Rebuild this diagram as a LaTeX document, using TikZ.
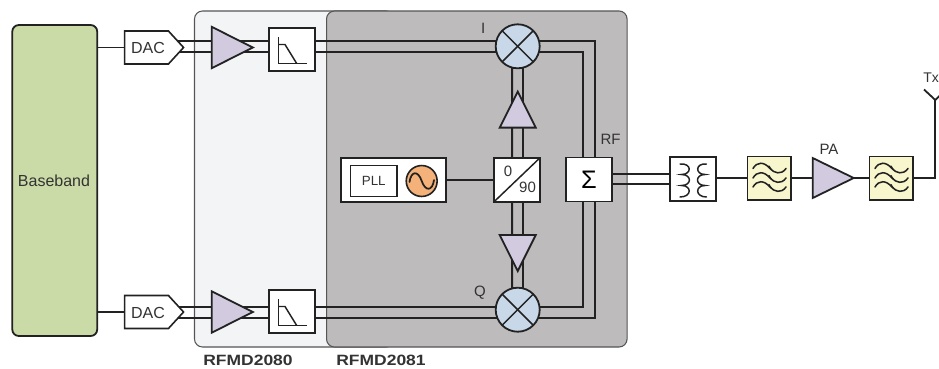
\documentclass[tikz,border=0pt]{standalone}
\usepackage{fontspec}
\setmainfont{Liberation Sans}
\newfontfamily\lblfont[FakeStretch=1.17]{Liberation Sans}
\usetikzlibrary{shapes.geometric,shapes.symbols,calc,backgrounds}
\pgfdeclarelayer{panels}
\pgfsetlayers{panels,background,main}
\definecolor{ink}{HTML}{222222}
\definecolor{bbgreen}{HTML}{CBDBA7}
\definecolor{amppurple}{HTML}{D2CBE0}
\definecolor{mixblue}{HTML}{C8D8E8}
\definecolor{oscorange}{HTML}{F4B27A}
\definecolor{filtyellow}{HTML}{F8F6CC}
\definecolor{lightpanel}{HTML}{F2F4F6}
\definecolor{darkpanel}{HTML}{BDBBBB}
\definecolor{panelline}{HTML}{555555}
\definecolor{txt}{HTML}{333333}
\tikzset{
  x=0.75pt,y=-0.75pt,
  wire/.style={draw=ink,line width=1.35pt},
  thinwire/.style={draw=ink,line width=1.1pt},
  box/.style={draw=ink,line width=1.35pt,fill=white,rectangle,inner sep=0pt,outer sep=0pt},
  filt/.style={box,fill=filtyellow,minimum width=32.4pt,minimum height=32.4pt},
  amp/.style={isosceles triangle,isosceles triangle stretches,draw=ink,line width=1.35pt,fill=amppurple,inner sep=0pt,outer sep=0pt},
  mix/.style={circle,draw=ink,line width=1.35pt,fill=mixblue,inner sep=0pt,outer sep=0pt,minimum size=33pt},
  dacshape/.style={signal,signal to=east,signal pointer angle=95,draw=ink,line width=1.2pt,fill=white,inner sep=0pt,outer sep=0pt,minimum width=44.25pt,minimum height=24.75pt},
  panel/.style={rectangle,rounded corners=6pt,draw=panelline,line width=0.8pt,inner sep=0pt},
  lab/.style={font=\fontsize{11.25pt}{13pt}\selectfont,text=txt,inner sep=0pt},
  biglab/.style={font=\fontsize{12pt}{14pt}\selectfont,text=txt,inner sep=0pt},
  blab/.style={font=\lblfont\bfseries\fontsize{11.2pt}{13pt}\selectfont,text=txt,inner sep=0pt},
  sym/.style={draw=ink,line width=1.1pt,line cap=round},
  filtersym/.pic={
    \foreach \d in {-9.5,0,9}{
      \draw[sym,line width=1.15pt] (-16,\d) .. controls (-12,{\d-7}) and (-5,{\d-7}) .. (1,\d)
         .. controls (5,{\d+4.5}) and (12,{\d+7}) .. (17,\d);
      \draw[sym,line width=0.9pt] (0,{\d-2.5}) -- (2.5,{\d+1.5});
    }
  },
  mixx/.pic={
    \draw[sym,line cap=butt] (-15.6,-15.6) -- (15.6,15.6);
    \draw[sym,line cap=butt] (-15.6,15.6) -- (15.6,-15.6);
  },
  lowpass/.pic={
    \draw[sym,line cap=butt] (-13.5,-12.5) -- (-13.5,14) -- (15,14);
    \draw[sym,line cap=butt] (-13.5,-5) -- (-7,-5) -- (4.7,14);
  }
}
\begin{document}
\begin{tikzpicture}
\useasboundingbox (0,0) rectangle (939,368);
\clip (0,0) rectangle (939,368);

% blocks
\node[box,fill=bbgreen,rounded corners=5pt,minimum width=63.75pt,minimum height=233.25pt] (base) at (54.75,180.5) {};
\node[biglab] (basetxt) at (54,181) {Baseband};

\node[dacshape] (dacA) at (146.5,47.5) {};
\node[biglab] (dacAt) at (148,48) {DAC};
\node[dacshape] (dacB) at (146.5,312) {};
\node[biglab] (dacBt) at (148,312.5) {DAC};

\node[amp,minimum width=31pt,minimum height=30.75pt] (ampA) at (224.5,47.5) {};
\node[amp,minimum width=31pt,minimum height=30.75pt] (ampB) at (224.5,312) {};

\node[box,minimum width=34.5pt,minimum height=32.5pt] (lpA) at (292,49.5) {};
\pic at (292,49.5) {lowpass};
\node[box,minimum width=34.5pt,minimum height=32.5pt] (lpB) at (292,311.5) {};
\pic at (292,311.5) {lowpass};

\node[mix] (mixI) at (517.7,46.3) {};
\pic at (517.7,46.3) {mixx};
\node[mix] (mixQ) at (517.7,309.7) {};
\pic at (517.7,309.7) {mixx};

\node[amp,shape border rotate=90,minimum width=27pt,minimum height=27pt] (ampU) at (517.7,116.5) {};
\node[amp,shape border rotate=270,minimum width=27pt,minimum height=27pt] (ampD) at (517.7,246.2) {};

\node[box,minimum width=34.5pt,minimum height=33pt] (split) at (516.8,180) {};
\draw[thinwire] (split.south west) -- (split.north east);
\node[lab] (zero) at (508,171) {0};
\node[lab] (ninety) at (527.5,187.5) {90};

\node[box,minimum width=34.5pt,minimum height=33pt] (sigma) at (589,179.5) {};
\node[font=\fontsize{19pt}{21pt}\selectfont,text=black,inner sep=0pt] (sigmat) at (589,179.5) {Σ};

\node[box,minimum width=79pt,minimum height=33pt] (pll) at (393.5,180.3) {};
\node[box,line width=1.2pt,minimum width=35pt,minimum height=23pt] (pllin) at (373.8,181) {};
\node[font=\fontsize{10pt}{12pt}\selectfont,text=txt,inner sep=0pt] (plltxt) at (373.8,181) {PLL};
\node[circle,draw=ink,line width=1.2pt,fill=oscorange,minimum size=23.2pt,inner sep=0pt,outer sep=0pt] (osc) at (421.7,181) {};
\draw[sym,line width=1.3pt] (409.5,182) .. controls (411,171) and (418,170) .. (421.7,181)
   .. controls (425.5,192) and (432.5,191) .. (434,180);

\node[box,minimum width=35pt,minimum height=33pt] (xfmr) at (693,179) {};
\draw[sym] (680,164) .. controls (692,163) and (692,174.5) .. (681.5,174.5)
   .. controls (692,174.5) and (692,185.5) .. (681.5,185.5)
   .. controls (692,185.5) and (692,197) .. (680,197);
\draw[sym] (706.5,164) .. controls (695,163) and (695,174.5) .. (705,174.5)
   .. controls (695,174.5) and (695,185.5) .. (705,185.5)
   .. controls (695,185.5) and (695,197) .. (706.5,197);

\node[filt] (flA) at (769,178) {};
\pic at (769,178) {filtersym};
\node[amp,minimum width=30pt,minimum height=30.75pt] (pa) at (825.2,178) {};
\node[filt] (flB) at (891,178) {};
\pic at (891,178) {filtersym};

\coordinate (antbase) at (935.3,100);
\coordinate (antturn) at (935.3,178);
\coordinate (antL) at (924,89.5);
\coordinate (antR) at (946,89.5);

% labels
\node[lab] (labI) at (483.3,28.5) {I};
\node[lab] (labQ) at (480,293) {Q};
\node[lab] (labRF) at (610.5,139.5) {RF};
\node[lab] (labPA) at (829,149) {PA};
\node[lab,font=\fontsize{10.5pt}{12pt}\selectfont,anchor=west] (labTx) at (923,77.5) {Tx};
\node[blab] (labA) at (248,360) {RFMD2080};
\node[blab] (labB) at (381,360) {RFMD2081};

\begin{pgfonlayer}{panels}
  \node[panel,fill=lightpanel,minimum width=150pt,minimum height=252pt] (pnlA) at (294.5,179) {};
  \node[panel,fill=darkpanel,minimum width=225.4pt,minimum height=252pt] (pnlB) at (476.8,179) {};
\end{pgfonlayer}

\begin{pgfonlayer}{background}
  % single lines
  \draw[wire] (base.east |- dacA) -- (dacA.west);
  \draw[wire] (base.east |- dacB) -- (dacB.west);
  \draw[wire] (pll.east |- split) -- (split.west);
  \draw[wire] (xfmr.east |- flA) -- (flA.west);
  \draw[wire] (flA.east) -- (pa.west);
  \draw[wire] (pa.east) -- (flB.west);
  \draw[wire] (flB.east) -- (antturn) -- (antbase);
  \draw[wire] (antL) -- (antbase) -- (antR);
  % I/Q pairs
  \draw[wire] ($(dacA.center)+(30,-6.5)$) -- ($(mixI.center)+(0,-5.3)$);
  \draw[wire] ($(dacA.center)+(30,4.5)$) -- ($(mixI.center)+(0,5.7)$);
  \draw[wire] ($(dacB.center)+(30,-5)$) -- ($(mixQ.center)+(0,-2.7)$);
  \draw[wire] ($(dacB.center)+(30,5.7)$) -- ($(mixQ.center)+(0,8)$);
  % mixer to sigma
  \draw[wire] ($(mixI.center)+(0,-5.3)$) -| ($(sigma.north)+(5.7,0)$);
  \draw[wire] ($(mixI.center)+(0,5.7)$) -| ($(sigma.north)+(-6.3,0)$);
  \draw[wire] ($(mixQ.center)+(0,-2.7)$) -| ($(sigma.south)+(-6.3,0)$);
  \draw[wire] ($(mixQ.center)+(0,8)$) -| ($(sigma.south)+(5.7,0)$);
  % LO pairs
  \foreach \dx in {-5.6,5.2}{
    \draw[wire] ($(mixI.center)+(\dx,0)$) -- ($(split.north)+(\dx+0.9,0)$);
    \draw[wire] ($(mixQ.center)+(\dx,0)$) -- ($(split.south)+(\dx+0.9,0)$);
  }
  % RF output pair
  \draw[wire] ($(sigma.east)+(0,-5.5)$) -- ($(xfmr.west)+(0,-5)$);
  \draw[wire] ($(sigma.east)+(0,4.8)$) -- ($(xfmr.west)+(0,5.3)$);
\end{pgfonlayer}
\end{tikzpicture}
\end{document}
